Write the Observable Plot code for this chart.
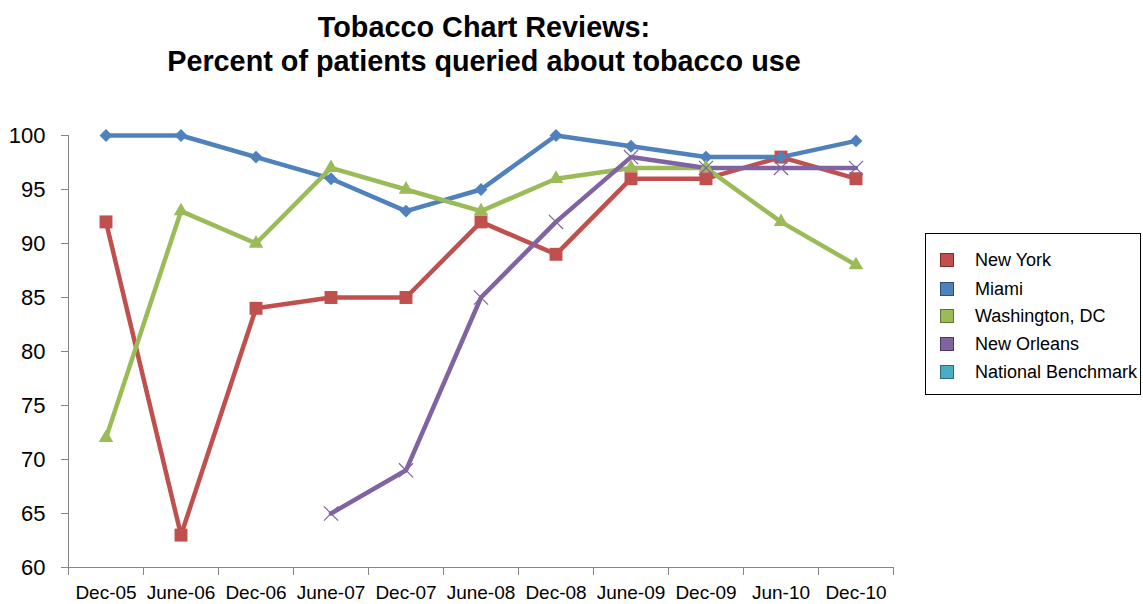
<!DOCTYPE html>
<html>
<head>
<meta charset="utf-8">
<script src="https://cdn.jsdelivr.net/npm/d3@7"></script>
<script src="https://cdn.jsdelivr.net/npm/@observablehq/plot@0.6"></script>
<style>
  html, body { margin: 0; padding: 0; background: #fff; }
  #wrap { position: relative; width: 1143px; height: 604px; font-family: "Liberation Sans", Arial, sans-serif; color: #000; }
  #title { position: absolute; left: 0; top: 10px; width: 968px; text-align: center; font-weight: bold; font-size: 28.8px; line-height: 34px; }
  #chart { position: absolute; left: 0; top: 95px; }
  #legend { position: absolute; left: 925px; top: 233px; width: 216px; height: 162px; border: 1.5px solid #000; box-sizing: border-box; }
  .row { position: absolute; left: 0; height: 20px; display: flex; align-items: center; font-size: 18px; white-space: nowrap; }
  .sw { position: absolute; left: 14px; width: 12px; height: 12px; border: 1.5px solid #333; }
  .lab { position: absolute; left: 49px; }
</style>
</head>
<body>
<div id="wrap">
  <div id="title">Tobacco Chart Reviews:<br>Percent of patients queried about tobacco use</div>
  <div id="chart"></div>
  <div id="legend"></div>
</div>
<script>
const xLabels = ["Dec-05","June-06","Dec-06","June-07","Dec-07","June-08","Dec-08","June-09","Dec-09","Jun-10","Dec-10"];
const yTicks = [60, 65, 70, 75, 80, 85, 90, 95, 100];
const seriesNames = ["New York","Miami","Washington, DC","New Orleans","National Benchmark"];
const seriesColors = ["#C0504D","#4F81BD","#9BBB59","#8064A2","#4BACC6"];
const seriesBorders = ["#7a2f2d","#2c4d74","#5f7434","#4a3a60","#2a6a7a"];
const newYork     = [92, 63, 84, 85, 85, 92, 89, 96, 96, 98, 96];
const miami       = [100, 100, 98, 96, 93, 95, 100, 99, 98, 98, 99.5];
const washington  = [72, 93, 90, 97, 95, 93, 96, 97, 97, 92, 88];
const newOrleans  = [null, null, null, 65, 69, 85, 92, 98, 97, 97, 97];
const benchmark   = [null, null, null, null, null, null, null, null, null, null, null];

const allValues = [newYork, miami, washington, newOrleans, benchmark];
const rows = [];
allValues.forEach((vals, s) => vals.forEach((v, i) => {
  if (v != null) rows.push({series: seriesNames[s], i, value: v});
}));
const of = name => rows.filter(d => d.series === name);

const gray = "#868686";
const lw = 4.5;
const plot = Plot.plot({
  width: 1143,
  height: 509,
  marginLeft: 68,
  marginRight: 250,
  marginTop: 40,
  marginBottom: 37,
  style: {fontFamily: "Liberation Sans, Arial, sans-serif", color: "#000", background: "#fff"},
  x: {type: "linear", domain: [-0.5, xLabels.length - 0.5]},
  y: {type: "linear", domain: [60, 100]},
  marks: [
    Plot.axisY({ticks: yTicks, tickSize: 7, tickPadding: 16, fontSize: 22, stroke: gray, label: null}),
    Plot.axisX({ticks: d3.range(-0.5, xLabels.length, 1), tickFormat: () => "", tickSize: 8, stroke: gray, label: null}),
    Plot.axisX({ticks: d3.range(xLabels.length), tickFormat: i => xLabels[i], tickSize: 0, tickPadding: 18, fontSize: 19, label: null}),
    Plot.ruleY([60], {stroke: gray, strokeWidth: 1}),
    Plot.ruleX([-0.5], {stroke: gray, strokeWidth: 1}),
    Plot.line(of("New York"), {x: "i", y: "value", stroke: seriesColors[0], strokeWidth: lw}),
    Plot.line(of("Miami"), {x: "i", y: "value", stroke: seriesColors[1], strokeWidth: lw}),
    Plot.line(of("Washington, DC"), {x: "i", y: "value", stroke: seriesColors[2], strokeWidth: lw}),
    Plot.line(of("New Orleans"), {x: "i", y: "value", stroke: seriesColors[3], strokeWidth: lw}),
    Plot.dot(of("New York"), {x: "i", y: "value", symbol: "square", r: 7.3, fill: seriesColors[0]}),
    Plot.dot(of("Miami"), {x: "i", y: "value", symbol: "diamond2", r: 5.8, fill: seriesColors[1]}),
    Plot.dot(of("Washington, DC"), {x: "i", y: "value", symbol: "triangle", r: 5.4, fill: seriesColors[2]}),
    Plot.dot(of("New Orleans"), {x: "i", y: "value", symbol: "times", r: 6.5, stroke: seriesColors[3], strokeWidth: 1.2})
  ]
});
document.getElementById("chart").appendChild(plot);

const legend = document.getElementById("legend");
const rowTops = [16, 45, 72, 100, 128];
seriesNames.forEach((name, k) => {
  const r = document.createElement("div");
  r.className = "row";
  r.style.top = rowTops[k] + "px";
  r.innerHTML = `<span class="sw" style="background:${seriesColors[k]};border-color:${seriesBorders[k]}"></span><span class="lab">${name}</span>`;
  legend.appendChild(r);
});
</script>
</body>
</html>
